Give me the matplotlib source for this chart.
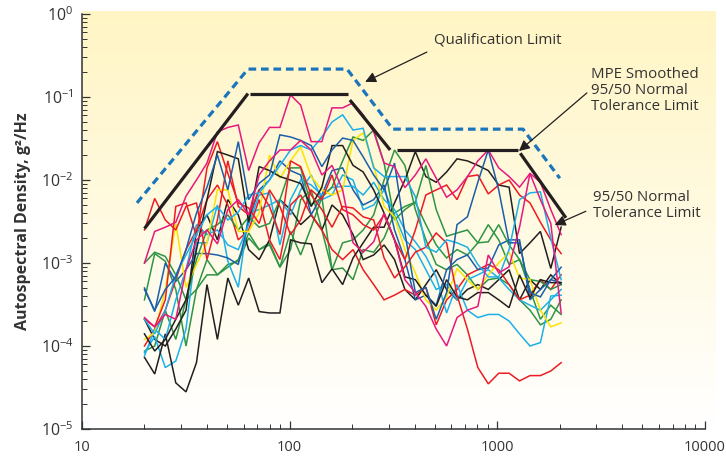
import numpy as np
import matplotlib
matplotlib.use("Agg")
import matplotlib.pyplot as plt
from matplotlib.ticker import FuncFormatter, LogLocator, NullFormatter

plt.rcParams['font.family'] = ['Open Sans', 'DejaVu Sans']

# 1/6-octave band centres, Hz
freq = [20, 22.4, 25.2, 28.3, 31.7, 35.6, 40, 44.9, 50.4, 56.6, 63.5, 71.3, 80, 89.8,
        101, 113, 127, 143, 160, 180, 202, 226, 254, 285, 320, 359, 403, 453, 508, 570,
        640, 718, 806, 905, 1016, 1140, 1280, 1437, 1613, 1810, 2030]

mag_1 = [1.0e-3, 2.4e-3, 2.7e-3, 3.1e-3, 6.4e-3, 1.0e-2, 1.6e-2, 3.8e-2, 4.3e-2, 4.6e-2, 1.3e-2,
         2.8e-2, 4.3e-2, 4.3e-2, 0.106, 0.080, 2.9e-2, 2.9e-2, 7.4e-2, 7.4e-2, 8.5e-2, 6.1e-2,
         3.8e-2, 1.6e-2, 1.45e-2, 8.1e-3, 1.15e-2, 1.8e-2, 1.05e-2, 6.2e-3, 7.6e-3, 1.1e-2,
         1.7e-2, 2.3e-2, 1.4e-2, 1.1e-2, 8.2e-3, 1.2e-2, 9.4e-3, 4.4e-3, 2.2e-3]
mag_2 = [2.2e-4, 1.7e-4, 2.4e-4, 2.1e-4, 8.3e-4, 1.9e-3, 2.5e-3, 1.7e-3, 4.4e-3, 5.8e-3, 3.8e-3,
         1.15e-2, 1.7e-2, 2.3e-2, 2.3e-2, 3.0e-2, 2.3e-2, 1.15e-2, 1.5e-2, 7.6e-3, 1.75e-3, 1.35e-3,
         1.8e-3, 4.0e-3, 1.9e-3, 6.3e-4, 4.4e-4, 3.0e-4, 1.6e-4, 1.0e-4, 2.2e-4, 2.7e-4, 3.0e-4,
         1.25e-3, 7.6e-4, 9.0e-4, 2.7e-3, 1.2e-2, 5.8e-3, 3.0e-3, 2.5e-4]
red_1 = [2.5e-3, 6.0e-3, 3.3e-3, 2.5e-3, 4.8e-3, 5.3e-3, 1.1e-3, 3.3e-3, 1.7e-2, 4.8e-3, 3.8e-3,
         7.6e-3, 4.8e-3, 2.2e-3, 1.7e-2, 1.45e-2, 6.6e-3, 4.4e-3, 2.7e-3, 4.8e-3, 4.6e-3, 3.6e-3,
         3.3e-3, 1.15e-3, 6.6e-4, 9.0e-4, 1.35e-3, 1.55e-3, 2.3e-3, 1.75e-3, 4.1e-4, 1.6e-4,
         5.5e-5, 3.5e-5, 4.7e-5, 4.7e-5, 3.8e-5, 4.4e-5, 4.4e-5, 5.0e-5, 6.3e-5]
red_2 = [2.1e-4, 1.7e-4, 3.6e-4, 4.8e-3, 5.3e-3, 2.1e-3, 1.4e-2, 2.9e-2, 1.2e-2, 5.3e-3, 4.6e-3,
         3.0e-3, 7.6e-3, 4.8e-3, 2.2e-3, 3.3e-3, 7.6e-3, 5.8e-3, 1.15e-2, 4.4e-3, 3.8e-3, 2.9e-3,
         2.5e-3, 3.8e-3, 1.9e-3, 1.1e-3, 2.5e-3, 6.6e-3, 7.6e-3, 8.7e-3, 5.8e-3, 1.1e-2, 1.15e-2,
         6.8e-3, 8.7e-3, 1.0e-2, 6.6e-3, 5.3e-3, 3.1e-3, 1.9e-3, 1.3e-3]
red_3 = [1.0e-4, 1.6e-4, 2.7e-4, 6.3e-4, 1.45e-3, 2.5e-3, 5.8e-3, 8.7e-3, 5.0e-3, 1.9e-3, 2.5e-3,
         5.8e-3, 1.9e-3, 1.1e-3, 5.0e-3, 6.6e-3, 3.8e-3, 2.5e-3, 1.45e-3, 1.1e-3, 1.45e-3, 8.3e-4,
         5.5e-4, 3.6e-4, 4.1e-4, 4.8e-4, 4.1e-4, 5.1e-4, 1.8e-4, 3.6e-4, 4.8e-4, 7.2e-4, 8.3e-4,
         9.6e-4, 8.3e-4, 5.5e-4, 3.6e-4, 4.1e-4, 6.3e-4, 4.8e-4, 7.2e-4]
blue_1 = [4.8e-4, 2.7e-4, 4.8e-4, 6.8e-4, 1.45e-3, 4.0e-3, 8.2e-3, 2.0e-2, 7.6e-3, 2.9e-2, 5.8e-3,
          9.1e-3, 1.15e-2, 3.5e-2, 3.3e-2, 3.0e-2, 2.6e-2, 1.45e-2, 2.3e-2, 3.2e-2, 3.0e-2, 1.9e-2,
          1.15e-2, 7.6e-3, 1.6e-2, 2.3e-3, 4.4e-4, 5.1e-4, 2.1e-4, 4.4e-4, 2.9e-3, 3.6e-3, 9.4e-3,
          2.3e-2, 7.6e-3, 1.75e-3, 1.75e-3, 4.4e-4, 3.9e-4, 6.3e-4, 8.9e-4]
blue_2 = [5.0e-4, 2.6e-4, 1.0e-3, 6.0e-4, 8.3e-4, 1.3e-3, 1.3e-3, 1.25e-3, 1.15e-3, 9.6e-4, 3.3e-3,
          7.6e-3, 1.0e-2, 1.7e-2, 1.3e-2, 1.15e-2, 3.8e-3, 6.6e-3, 1.3e-2, 1.4e-2, 7.6e-3, 5.0e-3,
          5.8e-3, 8.7e-3, 2.5e-3, 1.1e-3, 3.6e-4, 4.1e-4, 3.1e-4, 8.3e-4, 1.1e-3, 1.25e-3, 8.3e-4,
          8.7e-4, 1.65e-3, 1.9e-3, 1.9e-3, 3.6e-4, 4.8e-4, 6.3e-4, 5.8e-4]
cyan_1 = [2.1e-4, 1.4e-4, 2.7e-4, 7.2e-4, 1.25e-3, 2.2e-3, 3.8e-3, 4.8e-3, 3.3e-3, 4.1e-3, 6.6e-3,
          7.0e-3, 1.0e-2, 1.5e-2, 2.3e-2, 2.6e-2, 2.3e-2, 3.3e-2, 5.0e-2, 6.1e-2, 4.0e-2, 4.2e-2,
          1.4e-2, 1.1e-2, 1.1e-2, 1.1e-2, 6.3e-3, 1.55e-3, 1.35e-3, 1.9e-3, 1.75e-3, 1.55e-3,
          9.6e-4, 6.8e-4, 6.8e-4, 1.45e-3, 5.8e-3, 7.0e-3, 7.2e-3, 2.0e-3, 6.3e-4]
cyan_2 = [7.6e-5, 1.6e-4, 1.2e-4, 3.6e-4, 8.3e-4, 2.9e-3, 2.2e-3, 2.5e-3, 1.65e-3, 1.45e-3, 2.9e-3,
          6.6e-3, 7.0e-3, 1.65e-3, 5.8e-3, 1.0e-2, 8.7e-3, 6.6e-3, 8.1e-3, 8.4e-3, 8.4e-3, 6.6e-3,
          9.4e-3, 5.8e-3, 4.4e-3, 2.5e-3, 1.8e-3, 1.2e-3, 6.8e-4, 2.5e-4, 5.5e-4, 2.7e-4, 2.2e-4,
          2.4e-4, 2.4e-4, 2.0e-4, 1.4e-4, 1.0e-4, 1.1e-4, 4.0e-4, 4.1e-4]
cyan_3 = [8.3e-5, 1.3e-4, 5.5e-5, 6.6e-5, 1.6e-4, 1.75e-3, 1.75e-3, 5.0e-3, 1.05e-3, 5.1e-4, 4.0e-3,
          4.4e-3, 5.0e-3, 5.8e-3, 3.8e-3, 7.6e-3, 1.15e-2, 5.8e-3, 6.6e-3, 1.15e-2, 1.0e-2, 4.4e-3,
          5.0e-3, 7.6e-3, 3.8e-3, 1.9e-3, 1.45e-3, 8.3e-4, 4.8e-4, 5.5e-4, 3.6e-4, 6.3e-4, 7.2e-4,
          8.3e-4, 6.6e-4, 4.8e-4, 3.6e-4, 3.1e-4, 2.7e-4, 3.6e-4, 4.8e-4]
green_1 = [1.0e-3, 1.35e-3, 1.2e-3, 7.2e-4, 3.6e-4, 1.1e-3, 2.5e-3, 2.9e-3, 3.8e-3, 2.5e-3, 3.6e-3,
           2.7e-3, 3.0e-3, 5.8e-3, 1.4e-2, 1.4e-2, 5.0e-3, 6.2e-3, 8.2e-3, 1.7e-2, 3.3e-2, 3.0e-2,
           4.0e-2, 1.6e-2, 3.3e-3, 4.4e-3, 5.4e-3, 1.5e-2, 4.4e-3, 2.1e-3, 2.3e-3, 2.5e-3, 1.75e-3,
           1.8e-3, 2.9e-3, 1.65e-3, 1.1e-3, 6.3e-4, 6.0e-4, 4.8e-4, 5.5e-4]
green_2 = [8.7e-5, 1.0e-4, 2.7e-4, 1.2e-4, 3.6e-4, 4.8e-4, 1.1e-3, 7.2e-4, 9.6e-4, 1.05e-3, 2.0e-3,
           1.45e-3, 1.75e-3, 8.9e-4, 2.4e-3, 1.25e-3, 2.7e-3, 6.2e-3, 8.3e-4, 8.7e-4, 6.3e-4, 1.45e-3,
           1.35e-3, 2.0e-3, 4.0e-3, 4.8e-3, 5.4e-3, 2.9e-3, 1.65e-3, 1.15e-3, 1.45e-3, 1.25e-3,
           1.75e-3, 2.9e-3, 1.9e-3, 9.6e-4, 1.1e-3, 4.8e-4, 2.1e-4, 3.1e-4, 2.4e-4]
green_3 = [3.6e-4, 1.3e-3, 1.05e-3, 4.8e-4, 1.0e-4, 4.8e-4, 7.2e-4, 7.2e-4, 8.9e-4, 1.1e-3, 2.3e-3,
           1.45e-3, 1.65e-3, 8.9e-4, 1.45e-3, 5.8e-3, 7.6e-3, 2.5e-3, 8.3e-4, 1.75e-3, 1.9e-3, 2.5e-3,
           3.8e-3, 1.0e-2, 2.3e-2, 1.5e-2, 4.4e-3, 1.9e-3, 9.6e-4, 8.3e-4, 9.6e-4, 7.2e-4, 4.8e-4,
           6.3e-4, 6.6e-4, 5.5e-4, 3.6e-4, 2.7e-4, 1.8e-4, 2.1e-4, 3.6e-4]
yellow_1 = [1.2e-4, 1.45e-4, 4.8e-4, 3.0e-3, 5.1e-4, 9.6e-4, 1.75e-3, 7.6e-3, 7.6e-3, 2.4e-3, 2.4e-3,
            4.0e-3, 2.0e-2, 1.05e-2, 1.7e-2, 2.5e-2, 1.1e-2, 7.6e-3, 6.6e-3, 7.6e-3, 3.0e-2, 3.7e-2,
            1.5e-2, 4.8e-3, 3.6e-3, 1.45e-3, 7.6e-4, 3.6e-4, 2.7e-4, 3.9e-4, 8.6e-4, 6.3e-4, 4.8e-4,
            7.2e-4, 1.0e-3, 1.35e-3, 6.6e-4, 6.3e-4, 2.7e-4, 1.7e-4, 1.9e-4]
black_1 = [1.4e-4, 8.7e-5, 1.2e-4, 2.1e-4, 3.6e-4, 1.45e-3, 5.8e-3, 2.2e-2, 2.0e-2, 1.8e-2, 3.1e-3,
           1.45e-2, 1.3e-2, 1.1e-2, 1.0e-2, 9.1e-3, 4.8e-3, 8.2e-3, 2.6e-2, 2.6e-2, 1.5e-2, 1.25e-2,
           7.6e-3, 4.0e-3, 1.9e-3, 6.8e-4, 6.3e-4, 4.1e-4, 3.0e-4, 6.3e-4, 3.9e-4, 3.6e-4, 4.4e-4,
           4.4e-4, 3.6e-4, 2.9e-4, 7.2e-4, 3.8e-4, 6.3e-4, 5.8e-4, 5.8e-4]
black_2 = [7.3e-5, 4.6e-5, 1.4e-4, 3.6e-5, 2.8e-5, 6.3e-5, 5.5e-4, 1.2e-4, 6.6e-4, 3.1e-4, 6.6e-4,
           2.6e-4, 2.5e-4, 2.5e-4, 1.9e-3, 1.75e-3, 1.7e-3, 5.8e-4, 8.5e-4, 5.5e-4, 1.15e-3, 1.75e-3,
           2.7e-3, 2.7e-3, 5.3e-3, 1.0e-2, 2.2e-2, 1.1e-2, 9.4e-3, 1.25e-2, 1.8e-2, 1.7e-2, 1.5e-2,
           1.3e-2, 8.7e-3, 8.2e-3, 1.3e-3, 1.75e-3, 2.4e-3, 8.6e-4, 2.7e-3]
black_3 = [2.1e-4, 1.2e-4, 1.0e-4, 1.6e-4, 2.7e-4, 2.5e-3, 3.8e-3, 1.9e-3, 5.8e-3, 3.8e-3, 1.45e-3,
           1.1e-3, 1.9e-3, 5.8e-3, 4.4e-3, 2.9e-3, 3.8e-3, 2.5e-3, 5.0e-3, 3.8e-3, 2.2e-3, 1.1e-3,
           1.25e-3, 1.65e-3, 1.1e-3, 4.8e-4, 3.6e-4, 5.5e-4, 8.3e-4, 4.8e-4, 3.6e-4, 4.8e-4, 5.5e-4,
           4.8e-4, 6.3e-4, 8.3e-4, 3.6e-4, 6.3e-4, 4.8e-4, 7.2e-4, 5.5e-4]

# MPE smoothed 95/50 envelope (separate straight pieces)
mpe_f = [[20, 63], [64.5, 190], [195, 305], [330, 1260], [1290, 2140]]
mpe_psd = [[2.6e-3, 0.11], [0.108, 0.108], [0.092, 0.023], [0.023, 0.023], [0.021, 3.5e-3]]

# qualification limit
qual_f = [18.4, 63, 189, 314, 1330, 2000]
qual_psd = [5.3e-3, 0.217, 0.217, 0.041, 0.041, 0.0105]

MAG, RED, BLUE, CYAN = '#e6197f', '#ed1c24', '#1b5faa', '#1cb0e8'
GREEN, YELLOW, BLACK = '#2e9446', '#f9e300', '#231f20'

spectra = [(green_2, GREEN), (green_3, GREEN), (black_3, BLACK), (cyan_3, CYAN),
           (red_3, RED), (black_2, BLACK), (blue_2, BLUE), (cyan_2, CYAN),
           (green_1, GREEN), (yellow_1, YELLOW), (red_2, RED), (black_1, BLACK),
           (red_1, RED), (cyan_1, CYAN), (blue_1, BLUE), (mag_2, MAG), (mag_1, MAG)]

fig = plt.figure(figsize=(7.26, 4.61), dpi=100)

# yellow-to-white background
bg = fig.add_axes([0.1129, 0.0694, 0.872, 0.906], zorder=0)
t = np.linspace(0, 1, 256)[:, None, None]
top = np.array([255, 245, 196]) / 255.0
grad = top * (1 - t) + np.ones(3) * t
bg.imshow(np.repeat(grad, 2, axis=1), aspect='auto', extent=[0, 1, 0, 1])
bg.axis('off')

ax = fig.add_axes([0.1129, 0.0694, 0.8581, 0.9002], zorder=1)
ax.set_facecolor('none')

for vals, col in spectra:
    ax.plot(freq, vals, color=col, lw=1.1, solid_joinstyle='miter')

for fs, ps in zip(mpe_f, mpe_psd):
    ax.plot(fs, ps, color=BLACK, lw=2.3, solid_capstyle='butt')

ax.plot(qual_f, qual_psd, color='#1a75bc', lw=2.3, linestyle=(0, (2.4, 1.5)))

ax.set_xscale('log')
ax.set_yscale('log')
ax.set_xlim(10, 10000)
ax.set_ylim(1e-5, 1)

for s in ['top', 'right']:
    ax.spines[s].set_visible(False)
for s in ['left', 'bottom']:
    ax.spines[s].set_linewidth(1.1)
    ax.spines[s].set_color('#333333')

ax.xaxis.set_major_formatter(FuncFormatter(lambda v, p: f'{v:g}'))
ax.xaxis.set_minor_formatter(NullFormatter())
ax.yaxis.set_minor_locator(LogLocator(base=10, subs=np.arange(2, 10)))
ax.yaxis.set_minor_formatter(NullFormatter())
ax.tick_params(which='both', direction='in', top=False, right=False, color='#333333',
               labelcolor='#333333')
ax.tick_params(which='major', length=6, width=0.9)
ax.tick_params(which='minor', length=3.5, width=0.7)
ax.tick_params(axis='x', pad=8, labelsize=10.5)
ax.tick_params(axis='y', pad=6, labelsize=11.5)

ax.set_ylabel('Autospectral Density, g²/Hz', fontsize=11.5, fontweight='bold',
              color='#333333', labelpad=7)

arrow = dict(arrowstyle='-|>', color=BLACK, lw=0.9, mutation_scale=16, shrinkA=0, shrinkB=0)
ax.annotate('Qualification Limit', xy=(231, 0.152), xytext=(495, 0.486),
            fontsize=10.8, color='#333333', va='center', ha='left')
ax.annotate('', xy=(231, 0.152), xytext=(458, 0.348), arrowprops=arrow)

ax.text(2820, 0.121, 'MPE Smoothed\n95/50 Normal\nTolerance Limit', fontsize=10.8,
        color='#333333', va='center', ha='left', linespacing=1.1)
ax.annotate('', xy=(1271, 0.0223), xytext=(2700, 0.112), arrowprops=arrow)

ax.text(2884, 4.93e-3, '95/50 Normal\nTolerance Limit', fontsize=10.8,
        color='#333333', va='center', ha='left', linespacing=1.1)
ax.annotate('', xy=(1890, 2.87e-3), xytext=(2670, 4.2e-3), arrowprops=arrow)

fig.savefig('out.png', dpi=100)
